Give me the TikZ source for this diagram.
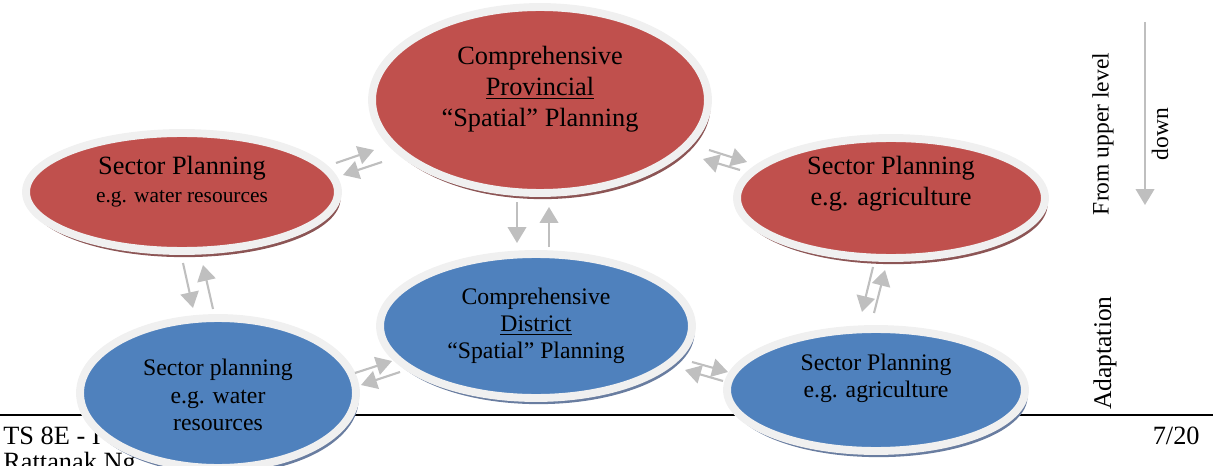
\documentclass[tikz,border=0pt]{standalone}
\usepackage{fontspec}
\setmainfont{Liberation Serif}
\usepackage{tikz}
\usetikzlibrary{calc,arrows.meta,shapes.geometric,shadows,positioning}
\definecolor{planred}{RGB}{192,80,77}
\definecolor{planblue}{RGB}{79,129,189}
\definecolor{ringgrey}{RGB}{240,240,240}
\definecolor{redshade}{RGB}{140,85,85}
\definecolor{blueshade}{RGB}{105,125,160}
\definecolor{arrgrey}{RGB}{191,191,191}

\begin{document}
\begin{tikzpicture}[x=0.02cm,y=-0.02cm]

\tikzset{plan/.style={shape=ellipse,draw=ringgrey,line width=4.5pt,inner sep=0pt},
redplan/.style={plan,fill=planred,general shadow={shadow xshift=1.5pt,shadow yshift=-3.5pt,fill=redshade}},
blueplan/.style={plan,fill=planblue,general shadow={shadow xshift=1.5pt,shadow yshift=-3.5pt,fill=blueshade}},
bigtext/.style={align=center,inner sep=0pt,font=\fontsize{15}{17.6}\selectfont},
midtext/.style={align=center,inner sep=0pt,font=\fontsize{13.5}{15.5}\selectfont},
foot/.style={inner sep=0pt,font=\fontsize{15}{17}\selectfont},
pair/.style={draw=arrgrey,line width=1.2pt,-{Triangle[length=9pt,width=10.5pt]}}}

\clip (0,0) rectangle (1213,466);

% Footer
\draw[line width=1.1pt] (0,415) -- (1213,415);
\node[foot,anchor=base west] (tsline) at (3,444) {TS 8E - I};
\node[foot,anchor=base east] (pageno) at (1200,444) {7/20};
\node[foot,anchor=base west] (author) at (3,470) {Rattanak Ng};

% Nodes
\node[redplan,minimum width=6.72cm,minimum height=3.72cm] (prov) at (540,100) {};
\node[redplan,minimum width=6.24cm,minimum height=2.36cm] (watT) at (182,192) {};
\node[redplan,minimum width=6.16cm,minimum height=2.4cm] (agrT) at (891,198) {};
\node[blueplan,minimum width=6.24cm,minimum height=2.88cm] (distr) at (536,326) {};
\node[blueplan,minimum width=5.52cm,minimum height=3.0cm] (watB) at (218,393) {};
\node[blueplan,minimum width=5.96cm,minimum height=2.44cm] (agrB) at (876,390) {};

% Texts
\node[bigtext] (provtxt) at ($(prov)+(0,-11)$) {Comprehensive\\\underline{Provincial}\\``Spatial'' Planning};
\node[bigtext] (watTtxt) at ($(watT)+(0,-10)$) {Sector Planning\\[-1.5pt]{\fontsize{12.2}{14}\selectfont e.g. water resources}};
\node[bigtext] (agrTtxt) at ($(agrT)+(0,-14)$) {Sector Planning\\e.g. agriculture};
\node[midtext] (distrtxt) at (distr) {Comprehensive\\\underline{District}\\``Spatial'' Planning};
\node[midtext] (watBtxt) at ($(watB)+(0,2)$) {Sector planning\\e.g. water\\resources};
\node[midtext] (agrBtxt) at ($(agrB)+(0,-12)$) {Sector Planning\\e.g. agriculture};

% Arrow ends
\coordinate (tl1) at (336,163); \coordinate (tl2) at (374,150);
\coordinate (tl3) at (382,162); \coordinate (tl4) at (343,175);
\coordinate (tr1) at (709,150); \coordinate (tr2) at (747,162);
\coordinate (tr3) at (740,170); \coordinate (tr4) at (703,159);
\coordinate (pd1) at (517,202); \coordinate (pd2) at (517,243);
\coordinate (pd3) at (549,247); \coordinate (pd4) at (549,207);
\coordinate (lw1) at (183,263); \coordinate (lw2) at (193,308);
\coordinate (lw3) at (213,309); \coordinate (lw4) at (203,265);
\coordinate (bl1) at (355,373); \coordinate (bl2) at (392,361);
\coordinate (bl3) at (400,372); \coordinate (bl4) at (361,385);
\coordinate (br1) at (692,362); \coordinate (br2) at (728,372);
\coordinate (br3) at (723,381); \coordinate (br4) at (685,370);
\coordinate (ra1) at (873,267); \coordinate (ra2) at (862,312);
\coordinate (ra3) at (874,313); \coordinate (ra4) at (885,270);

% Arrows
\foreach \a in {tl,tr,pd,lw,bl,br,ra} {
  \draw[pair] (\a1) -- (\a2);
  \draw[pair] (\a3) -- (\a4);
}

% Side labels
\coordinate (downtop) at (1145,22);
\coordinate (downend) at (1145,205);
\draw[pair] (downtop) -- (downend);
\node[rotate=90,inner sep=0pt,font=\fontsize{13.4}{15}\selectfont] (upper) at (1103,134) {From upper level};
\node[rotate=90,inner sep=0pt,font=\fontsize{13.4}{15}\selectfont] (down) at (1160,134) {down};
\node[rotate=90,inner sep=0pt,font=\fontsize{14.5}{16}\selectfont] (adapt) at (1105,353) {Adaptation};

\end{tikzpicture}
\end{document}
